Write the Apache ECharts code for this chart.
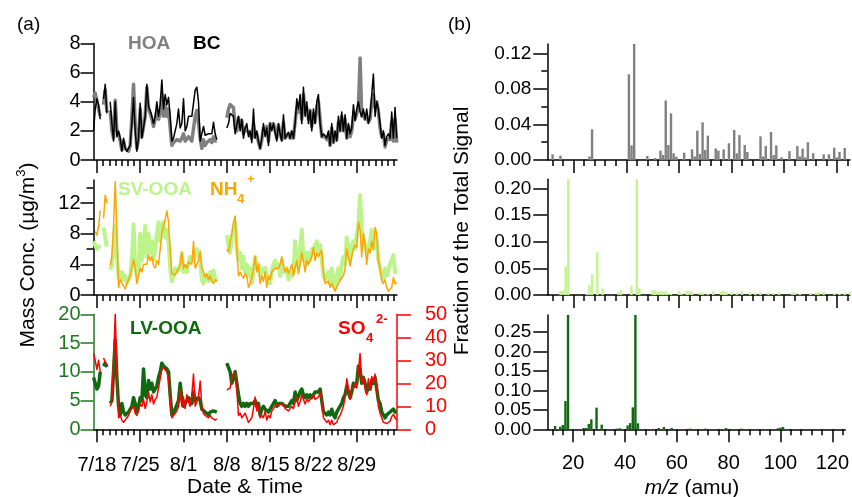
<!DOCTYPE html>
<html>
<head>
<meta charset="utf-8">
<script src="https://cdn.jsdelivr.net/npm/echarts@6/dist/echarts.min.js"></script>
<style>
  html, body { margin: 0; padding: 0; background: #fff; }
  #chart { width: 852px; height: 497px; }
</style>
</head>
<body>
<div id="chart"></div>
<script>
// ---------- time axis (days relative to 7/18 00:00) ----------
const startDay = -0.54;      // first sample
const stepDay = 0.2692;      // sampling interval, days
const dateTickDays = [0, 7, 14, 21, 28, 35, 42];
const dateTickLabels = ['7/18', '7/25', '8/1', '8/8', '8/15', '8/22', '8/29'];

// ---------- panel (a): mass concentrations, µg/m3 ----------
const hoa = [
  4.3,4.6,4.5,3.5,3.0,null,3.8,4.8,3.3,null,
  3.4,2.0,1.5,4.1,2.0,1.8,1.3,0.7,1.3,0.8,
  0.7,0.6,1.0,3.0,5.2,2.5,0.8,1.5,3.5,1.6,
  1.7,3.0,5.0,3.5,3.2,2.8,2.3,2.8,3.4,2.8,
  3.2,4.5,3.0,3.8,3.0,3.5,2.2,1.0,1.2,1.3,
  1.4,1.5,1.3,1.5,1.8,1.3,1.4,1.6,1.5,1.3,
  1.4,3.0,3.4,2.5,1.5,0.8,1.4,1.0,1.2,1.3,
  1.4,1.2,1.6,1.3,1.3,null,null,null,null,null,
  2.9,3.5,3.8,3.8,3.6,2.2,2.0,2.9,2.4,2.7,
  1.8,2.2,2.3,1.9,2.0,1.5,2.5,1.6,1.8,1.2,
  0.8,1.4,2.2,1.8,2.3,1.3,2.5,2.2,2.5,2.6,
  1.5,2.4,1.8,1.4,2.6,1.5,1.5,1.8,1.5,1.9,
  1.5,2.6,3.6,3.3,4.0,2.8,4.5,3.2,3.6,2.8,
  3.4,2.3,3.2,2.6,3.6,4.0,2.8,1.6,1.5,1.6,
  1.4,1.8,1.0,2.2,1.2,1.8,1.4,2.6,2.0,3.0,
  2.0,2.8,1.5,2.3,1.6,2.0,3.0,2.8,3.2,3.5,
  7.0,3.0,3.2,2.8,3.0,2.6,2.8,4.0,4.5,3.6,
  4.0,3.3,2.2,1.6,1.8,0.9,1.4,1.5,1.4,2.6,
  1.3,2.8,1.2
];
const bc = [
  2.0,3.5,4.2,3.8,2.8,null,4.2,5.2,3.2,null,
  4.0,2.5,1.3,4.0,1.6,2.0,1.5,0.6,1.5,0.8,
  0.6,0.5,1.0,2.5,4.3,2.0,0.6,1.5,3.9,1.5,
  1.6,3.0,5.2,3.7,3.4,3.0,2.5,3.0,4.0,3.0,
  3.8,5.5,3.5,4.5,3.8,4.3,3.0,1.3,1.5,2.0,
  2.5,3.5,2.2,2.5,4.2,2.0,2.3,3.0,3.0,3.0,
  3.0,4.8,5.0,4.0,1.3,1.2,2.3,1.7,1.8,1.8,
  1.9,1.8,2.6,1.8,1.4,null,null,null,null,null,
  2.2,2.5,3.2,3.3,3.0,1.8,1.7,3.0,2.0,2.8,
  1.5,2.2,2.5,1.6,2.0,1.2,3.5,1.5,2.0,1.3,
  0.8,1.5,2.5,1.6,2.2,1.0,2.5,2.0,2.5,2.6,
  1.3,2.5,1.8,1.3,3.1,1.5,1.5,1.9,1.5,2.0,
  1.5,2.5,4.2,3.5,4.5,2.5,5.0,3.0,4.0,2.5,
  3.4,2.0,3.5,2.5,4.0,4.5,2.5,1.6,1.8,1.7,
  1.5,2.0,1.0,2.5,1.2,2.0,1.3,3.0,2.0,3.3,
  2.0,3.1,1.5,2.5,1.8,2.2,3.8,2.7,3.5,4.0,
  3.3,3.0,3.5,2.8,3.5,2.5,3.0,4.5,5.9,3.0,
  4.0,3.5,2.5,1.5,2.0,1.0,1.6,1.8,1.5,3.3,
  1.5,3.6,1.5
];
const svooa = [
  7.0,6.5,6.0,5.8,6.5,null,8.8,7.5,6.3,null,
  3.3,3.8,6.0,9.0,5.0,2.5,2.0,3.0,2.0,2.5,
  1.5,2.0,2.5,4.5,9.2,4.0,2.5,3.0,8.0,4.5,
  6.5,9.0,5.0,8.0,5.5,7.0,4.5,6.0,8.0,9.5,
  7.0,9.0,9.5,7.5,8.5,7.0,3.5,1.8,2.0,3.5,
  3.0,3.2,3.5,5.5,3.0,3.5,3.0,4.0,5.0,5.0,
  4.5,5.5,6.0,6.2,4.5,2.0,1.5,2.5,2.5,1.8,
  3.0,2.0,3.2,2.0,2.2,null,null,null,null,null,
  7.8,6.5,5.5,7.5,8.5,9.5,6.0,4.5,5.5,3.5,
  5.0,3.0,4.0,2.5,3.5,1.5,3.0,5.0,3.5,4.0,
  2.5,3.5,3.0,3.5,2.5,2.5,1.5,3.0,4.0,4.5,
  3.5,4.0,2.5,4.5,3.0,3.0,3.5,2.0,3.0,2.5,
  3.0,7.0,5.0,3.5,6.0,8.5,4.5,5.5,4.0,5.5,
  4.5,6.0,5.5,6.5,7.0,5.5,6.5,4.5,2.5,2.0,
  2.5,3.0,1.5,3.5,2.0,1.0,2.5,3.5,2.0,4.0,
  5.0,4.0,7.5,6.0,4.5,6.5,7.0,6.0,8.0,9.0,
  13.0,8.5,7.5,6.5,5.5,6.0,7.0,8.5,6.0,8.0,
  7.0,4.5,3.5,2.5,2.0,3.5,2.5,2.5,4.0,4.0,
  5.2,3.0,2.8
];
const nh4 = [
  null,8.3,7.8,9.0,11.0,null,10.0,13.0,12.0,null,
  3.8,5.0,9.0,14.8,8.0,1.0,2.0,2.2,1.2,0.8,
  1.5,2.0,2.5,3.5,4.6,3.5,1.5,2.5,3.5,3.0,
  4.0,3.8,4.0,5.2,4.5,5.0,3.8,3.5,4.5,4.0,
  6.0,8.0,9.0,9.8,11.0,9.5,6.0,2.8,2.6,2.6,
  2.8,3.5,4.0,5.5,3.5,4.0,3.5,4.3,4.5,4.0,
  7.0,3.5,4.0,4.5,5.7,3.5,3.0,2.3,2.8,2.0,
  2.5,1.8,1.5,2.0,1.8,null,null,null,null,null,
  6.0,5.6,7.0,8.0,9.5,10.3,6.0,2.5,3.0,2.5,
  2.2,2.8,2.5,1.0,1.5,2.2,3.5,5.0,3.0,4.0,
  1.5,2.5,1.8,3.0,1.0,2.5,2.0,3.0,3.2,3.5,
  3.5,3.5,4.0,5.0,3.8,3.0,3.5,2.8,3.0,4.0,
  2.5,3.5,4.5,2.8,4.0,5.5,4.5,3.0,4.5,4.0,
  4.5,5.0,6.2,4.5,5.5,5.0,5.5,5.8,3.0,1.5,
  1.3,1.8,1.0,1.5,1.0,0.5,1.0,1.5,2.0,2.2,
  2.5,3.5,6.0,5.0,3.8,5.0,6.0,6.5,6.2,9.5,
  8.5,5.0,8.0,6.5,4.0,6.0,5.5,7.0,6.0,8.8,
  8.0,4.5,3.5,1.8,1.5,2.0,1.0,0.5,0.6,1.0,
  2.3,1.5,1.6
];
const lvooa = [
  9.0,8.0,7.0,7.5,10.0,null,11.0,11.5,10.8,null,
  4.5,5.0,10.0,15.5,9.0,4.0,2.5,4.5,3.0,2.5,
  2.5,3.0,3.5,4.0,5.5,4.5,3.0,4.0,5.5,5.0,
  10.5,6.0,5.5,8.5,7.0,8.0,6.5,7.0,7.5,9.0,
  10.0,11.5,11.0,11.0,10.5,10.0,6.0,2.5,3.0,3.5,
  3.5,5.0,8.0,5.5,4.0,4.5,4.5,5.5,5.0,4.5,
  6.5,5.0,5.0,5.5,5.0,3.5,3.2,3.0,3.0,2.5,
  3.0,3.0,3.2,3.2,3.0,null,null,null,null,null,
  11.5,11.5,10.0,8.0,9.0,10.0,8.0,6.0,4.5,4.0,
  4.5,4.0,4.5,4.0,4.5,4.5,4.5,5.0,4.0,4.5,
  2.5,3.5,4.0,3.5,3.5,3.0,3.5,4.0,4.5,5.0,
  4.0,4.5,4.5,4.5,4.5,4.0,4.0,4.0,4.5,5.0,
  4.5,6.5,5.0,5.0,6.5,7.0,6.0,5.5,6.0,5.5,
  6.0,5.5,6.0,6.5,6.5,6.5,7.0,5.0,3.0,3.0,
  2.5,3.0,2.5,3.5,2.5,2.0,3.0,3.5,3.5,4.5,
  5.5,6.0,7.5,6.5,5.5,6.5,8.0,7.5,8.0,11.0,
  10.5,8.0,9.0,8.0,6.5,7.5,7.0,8.5,8.0,9.0,
  7.0,5.0,4.5,3.0,2.5,2.0,2.5,2.5,3.0,3.0,
  3.5,3.0,3.0
];
const so4 = [
  33,30,26,30,25,null,31,29,28,null,
  10,12,30,50,25,5,6,4,3,4,
  5,6,8,9,10,7,6,8,11,10,
  13,9,12,16,12,15,11,13,14,18,
  22,26,27,26,25,22,12,5,6,7,
  8,10,17,10,14,9,15,12,10,15,
  24,10,12,14,21,10,7,6,6,5,
  6,5,5,4,4.5,null,null,null,null,null,
  17,17,18,22,24,25,17,6,7,5,
  5,7,5,3,4,5,9,14,8,10,
  5,6,5,8,4,6,5,8,9,10,
  11,10,11,11,11,9,9,8,9,10,
  9,12,14,10,12,15,13,11,13,12,
  13,13,15,13,13,14,16,13,5,4,
  3,4,2,4,2,1.5,3,5,6,8,
  10,14,22,18,13,17,18,20,18,25,
  33,20,23,18,15,22,17,23,20,24,
  17,10,7,5,3,2.5,2.5,2.5,3.5,5.5,
  6.5,5,4
];

// ---------- panel (b): factor mass spectra ----------
const hoaMz = [12,15,26,27,41,42,43,48,51,53,54,55,56,57,58,59,62,65,66,67,68,69,70,71,74,75,77,79,81,82,83,85,86,91,92,93,95,96,97,99,102,105,106,107,108,109,111,115,117,119,120,121,123];
const hoaFrac = [0.0064,0.0049,0.004,0.0345,0.0964,0.0165,0.1305,0.0045,0.0023,0.0105,0.0056,0.067,0.0169,0.0525,0.0075,0.0038,0.0083,0.012,0.004,0.033,0.0068,0.0424,0.0113,0.0274,0.013,0.0105,0.012,0.0188,0.0338,0.0075,0.028,0.0169,0.009,0.0266,0.004,0.0158,0.0315,0.0056,0.0165,0.003,0.010,0.0158,0.004,0.0128,0.003,0.020,0.0075,0.0064,0.0064,0.0139,0.003,0.009,0.0135];

const svMz = [15,16,17,18,25,26,27,29,31,37,38,42,44,45,50,51,52,53,54,55,56,57,60,61,63,64,65,68,69,71,73,76,77,78,80,82,84,87,89,91,94,96,98,103,104,106,110,112,113,115,119,121,123,125];
const svFrac = [0.0075,0.008,0.054,0.217,0.003,0.019,0.039,0.080,0.0125,0.005,0.009,0.017,0.217,0.0125,0.009,0.009,0.006,0.0075,0.006,0.0075,0.003,0.0025,0.0075,0.003,0.0075,0.0075,0.006,0.005,0.0045,0.003,0.0075,0.006,0.008,0.006,0.005,0.0045,0.007,0.005,0.005,0.0045,0.005,0.003,0.005,0.005,0.0045,0.0025,0.0035,0.0045,0.005,0.006,0.0035,0.003,0.0045,0.006];

const lvMz = [13,15,16,17,18,24,25,26,27,29,31,37,38,41,42,43,44,45,53,55,58,65,71,79,85,99,100,101];
const lvFrac = [0.0085,0.0068,0.011,0.0725,0.293,0.0034,0.0034,0.0137,0.0256,0.0555,0.012,0.0017,0.0026,0.010,0.016,0.0563,0.293,0.0154,0.0034,0.006,0.0034,0.0017,0.0017,0.0034,0.0017,0.0026,0.0043,0.006];

const mzMajorTicks = [20, 40, 60, 80, 100, 120];

// ---------- helpers ----------
const fontFamily = '"Liberation Sans", Arial, Helvetica, sans-serif';
const black = '#000';
const gridGreen = '#1f7a1f';
const red = '#ff0000';
const tickFont = 20;

const times = hoa.map((_, i) => +(startDay + i * stepDay).toFixed(4));
const toPairs = arr => arr.map((v, i) => [times[i], v]);
const zipXY = (xs, ys) => xs.map((x, i) => [x, ys[i]]);

const dayTicks = [];
for (let d = 0; d <= 48; d++) dayTicks.push(d);
const mzMinorTicks = [];
for (let m = 12; m <= 124; m += 4) mzMinorTicks.push(m);

const leftGrid = { left: 93.5, width: 303.5 };
const rightGrid = { left: 547.3, width: 302.7 };

const lineW = 1.5;

function xMajor(gridIndex, min, max, ticks, showLabels, formatter) {
  return {
    type: 'value', gridIndex, min, max, position: 'bottom',
    axisLine: { show: true, onZero: false, lineStyle: { color: black, width: lineW } },
    axisTick: { show: true, length: 13, customValues: ticks, lineStyle: { color: black, width: lineW } },
    axisLabel: {
      show: showLabels, customValues: ticks, formatter, margin: 26,
      showMinLabel: true, showMaxLabel: true, hideOverlap: false,
      fontSize: tickFont, color: black, fontFamily
    },
    splitLine: { show: false }
  };
}
function xMinor(gridIndex, min, max, ticks) {
  return {
    type: 'value', gridIndex, min, max, position: 'bottom',
    axisLine: { show: false, onZero: false },
    axisTick: { show: true, length: 6, customValues: ticks, lineStyle: { color: black, width: lineW } },
    axisLabel: { show: false },
    splitLine: { show: false }
  };
}
function yAxisDef(gridIndex, max, ticks, labels, o = {}) {
  const color = o.color || black;
  return {
    type: 'value', gridIndex, min: 0, max, position: o.position || 'left',
    axisLine: { show: o.line !== false, onZero: false, lineStyle: { color, width: lineW } },
    axisTick: { show: true, length: o.tickLen || 13, customValues: ticks, lineStyle: { color, width: lineW } },
    axisLabel: {
      show: !!labels, customValues: labels || [], margin: o.margin || 13,
      showMinLabel: true, showMaxLabel: true, hideOverlap: false,
      fontSize: o.fontSize || tickFont, color, fontFamily,
      formatter: o.formatter || (v => String(v))
    },
    splitLine: { show: false }
  };
}

const dateFmt = v => {
  const k = dateTickDays.indexOf(v);
  return k >= 0 ? dateTickLabels[k] : '';
};
const frac2 = v => v.toFixed(2);

const xAxis = [
  xMajor(0, -0.55, 48.5, dateTickDays, false, dateFmt),
  xMajor(1, -0.55, 48.5, dateTickDays, false, dateFmt),
  xMajor(2, -0.55, 48.5, dateTickDays, true, dateFmt),
  xMinor(0, -0.55, 48.5, dayTicks),
  xMinor(1, -0.55, 48.5, dayTicks),
  xMinor(2, -0.55, 48.5, dayTicks),
  xMajor(3, 10, 125, mzMajorTicks, false, v => String(v)),
  xMajor(4, 10, 125, mzMajorTicks, false, v => String(v)),
  xMajor(5, 10, 125, mzMajorTicks, true, v => String(v)),
  xMinor(3, 10, 125, mzMinorTicks),
  xMinor(4, 10, 125, mzMinorTicks),
  xMinor(5, 10, 125, mzMinorTicks)
];
xAxis[8].axisLabel.margin = 24;

const specOpts = { formatter: frac2, margin: 16, tickLen: 14, fontSize: 19 };
const yAxis = [
  yAxisDef(0, 8, [0, 2, 4, 6, 8], [0, 2, 4, 6, 8]),
  yAxisDef(1, 15, [0, 4, 8, 12], [0, 4, 8, 12]),
  yAxisDef(1, 15, [2, 6, 10, 14], null, { line: false, tickLen: 7 }),
  yAxisDef(2, 20, [0, 5, 10, 15, 20], [0, 5, 10, 15, 20], { color: gridGreen }),
  yAxisDef(2, 50, [0, 10, 20, 30, 40, 50], [0, 10, 20, 30, 40, 50],
    { color: red, position: 'right', tickLen: 14, margin: 28 }),
  yAxisDef(3, 0.1305, [0, 0.04, 0.08, 0.12], [0, 0.04, 0.08, 0.12], specOpts),
  yAxisDef(3, 0.1305, [0.02, 0.06, 0.10], null, { line: false, tickLen: 6 }),
  yAxisDef(4, 0.217, [0, 0.05, 0.10, 0.15, 0.20], [0, 0.05, 0.10, 0.15, 0.20], specOpts),
  yAxisDef(5, 0.293, [0, 0.05, 0.10, 0.15, 0.20, 0.25], [0, 0.05, 0.10, 0.15, 0.20, 0.25], specOpts)
];

function lineSeries(name, data, xi, yi, color, width, z) {
  return {
    name, type: 'line', xAxisIndex: xi, yAxisIndex: yi, data: toPairs(data),
    showSymbol: false, symbol: 'none', connectNulls: false, z,
    lineStyle: { color, width, join: 'round' }, emphasis: { disabled: true }
  };
}
function barSeries(name, xs, ys, xi, yi, color) {
  return {
    name, type: 'bar', xAxisIndex: xi, yAxisIndex: yi, data: zipXY(xs, ys),
    barWidth: 2.4, itemStyle: { color }, emphasis: { disabled: true }
  };
}

const hoaGray = '#808080';
const svGreen = '#bdf48a';
const nhOrange = '#ffa500';
const lvGreen = '#0f6a0f';

const option = {
  animation: false,
  backgroundColor: '#fff',
  textStyle: { fontFamily },
  grid: [
    { left: leftGrid.left, width: leftGrid.width, top: 43.5, height: 116.5 },
    { left: leftGrid.left, width: leftGrid.width, top: 180, height: 115 },
    { left: leftGrid.left, width: leftGrid.width, top: 314.3, height: 115 },
    { left: rightGrid.left, width: rightGrid.width, top: 44, height: 116 },
    { left: rightGrid.left, width: rightGrid.width, top: 179.3, height: 115.7 },
    { left: rightGrid.left, width: rightGrid.width, top: 315, height: 114.3 }
  ],
  xAxis, yAxis,
  series: [
    lineSeries('HOA', hoa, 0, 0, hoaGray, 3.5, 2),
    lineSeries('BC', bc, 0, 0, black, 1.5, 3),
    lineSeries('SV-OOA', svooa, 1, 1, svGreen, 4, 2),
    lineSeries('NH4+', nh4, 1, 1, nhOrange, 1.5, 3),
    lineSeries('LV-OOA', lvooa, 2, 3, lvGreen, 3.5, 2),
    lineSeries('SO42-', so4, 2, 4, red, 1.5, 3),
    barSeries('HOA spectrum', hoaMz, hoaFrac, 6, 5, hoaGray),
    barSeries('SV-OOA spectrum', svMz, svFrac, 7, 7, '#c2f58e'),
    barSeries('LV-OOA spectrum', lvMz, lvFrac, 8, 8, lvGreen)
  ],
  graphic: [
    { type: 'text', x: 17, y: 25, style: { text: '(a)', fontSize: 19, fontFamily, fill: black, align: 'left', verticalAlign: 'middle' } },
    { type: 'text', x: 448, y: 25, style: { text: '(b)', fontSize: 19, fontFamily, fill: black, align: 'left', verticalAlign: 'middle' } },

    { type: 'text', x: 128, y: 44, style: { text: 'HOA', fontSize: 19, fontWeight: 'bold', fontFamily, fill: hoaGray, align: 'left', verticalAlign: 'middle' } },
    { type: 'text', x: 193, y: 44, style: { text: 'BC', fontSize: 19, fontWeight: 'bold', fontFamily, fill: black, align: 'left', verticalAlign: 'middle' } },

    { type: 'text', x: 118, y: 190, style: { text: 'SV-OOA', fontSize: 19, fontWeight: 'bold', fontFamily, fill: svGreen, align: 'left', verticalAlign: 'middle' } },
    { type: 'text', x: 210, y: 190, style: { text: 'NH', fontSize: 19, fontWeight: 'bold', fontFamily, fill: nhOrange, align: 'left', verticalAlign: 'middle' } },
    { type: 'text', x: 237, y: 199, style: { text: '4', fontSize: 13, fontWeight: 'bold', fontFamily, fill: nhOrange, align: 'left', verticalAlign: 'middle' } },
    { type: 'text', x: 247, y: 179, style: { text: '+', fontSize: 13, fontWeight: 'bold', fontFamily, fill: nhOrange, align: 'left', verticalAlign: 'middle' } },

    { type: 'text', x: 130, y: 329, style: { text: 'LV-OOA', fontSize: 19, fontWeight: 'bold', fontFamily, fill: lvGreen, align: 'left', verticalAlign: 'middle' } },
    { type: 'text', x: 338, y: 329, style: { text: 'SO', fontSize: 19, fontWeight: 'bold', fontFamily, fill: red, align: 'left', verticalAlign: 'middle' } },
    { type: 'text', x: 366, y: 338, style: { text: '4', fontSize: 13, fontWeight: 'bold', fontFamily, fill: red, align: 'left', verticalAlign: 'middle' } },
    { type: 'text', x: 376, y: 319, style: { text: '2-', fontSize: 13, fontWeight: 'bold', fontFamily, fill: red, align: 'left', verticalAlign: 'middle' } },

    { type: 'text', x: 28, y: 255, rotation: Math.PI / 2,
      style: {
        text: '{t|Mass Conc. (µg/m}{s|3}{t|)}',
        rich: {
          t: { fontSize: 21, fontFamily, fill: black, lineHeight: 26, verticalAlign: 'middle' },
          s: { fontSize: 13, fontFamily, fill: black, lineHeight: 26, verticalAlign: 'top' }
        },
        align: 'center', verticalAlign: 'middle'
      } },
    { type: 'text', x: 462, y: 231, rotation: Math.PI / 2,
      style: { text: 'Fraction of the Total Signal', fontSize: 21, fontFamily, fill: black, align: 'center', verticalAlign: 'middle' } },

    { type: 'text', x: 245, y: 487, style: { text: 'Date & Time', fontSize: 21, fontFamily, fill: black, align: 'center', verticalAlign: 'middle' } },
    { type: 'text', x: 692, y: 488,
      style: {
        text: '{i|m/z}{n| (amu)}',
        rich: {
          i: { fontSize: 21, fontStyle: 'italic', fontFamily, fill: black },
          n: { fontSize: 21, fontFamily, fill: black }
        },
        align: 'center', verticalAlign: 'middle'
      } }
  ]
};

const chart = echarts.init(document.getElementById('chart'));
chart.setOption(option);
</script>
</body>
</html>
